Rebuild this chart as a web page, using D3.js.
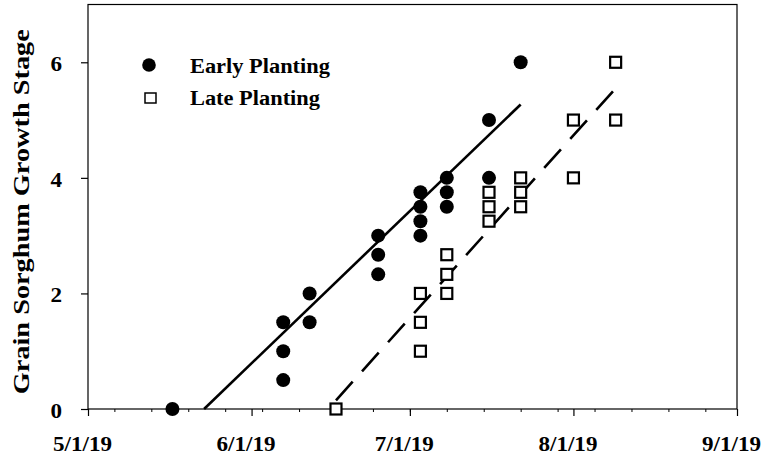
<!DOCTYPE html>
<html>
<head>
<meta charset="utf-8">
<script src="https://cdn.jsdelivr.net/npm/d3@7"></script>
<style>
  body { margin: 0; background: #fff; }
  svg text { font-family: "Liberation Serif", "Times New Roman", serif; font-weight: bold; fill: #000; }
</style>
</head>
<body>
<svg width="763" height="461"></svg>
<script>
// Early planting observations
var earlyDates = ["2019-05-17",
    "2019-06-07", "2019-06-07", "2019-06-07",
    "2019-06-12", "2019-06-12",
    "2019-06-25", "2019-06-25", "2019-06-25",
    "2019-07-03", "2019-07-03", "2019-07-03", "2019-07-03",
    "2019-07-08", "2019-07-08", "2019-07-08",
    "2019-07-16", "2019-07-16",
    "2019-07-22"];
var earlyStage = [0,
    1.5, 1.0, 0.5,
    2.0, 1.5,
    3.0, 2.67, 2.33,
    3.75, 3.5, 3.25, 3.0,
    4.0, 3.75, 3.5,
    5.0, 4.0,
    6.0];

// Late planting observations
var lateDates = ["2019-06-17",
    "2019-07-03", "2019-07-03", "2019-07-03",
    "2019-07-08", "2019-07-08", "2019-07-08",
    "2019-07-16", "2019-07-16", "2019-07-16",
    "2019-07-22", "2019-07-22", "2019-07-22",
    "2019-08-01", "2019-08-01",
    "2019-08-09", "2019-08-09"];
var lateStage = [0,
    2.0, 1.5, 1.0,
    2.67, 2.33, 2.0,
    3.75, 3.5, 3.25,
    4.0, 3.75, 3.5,
    5.0, 4.0,
    6.0, 5.0];

// fitted lines (end points)
var earlyFitDates = ["2019-05-23", "2019-07-22"];
var earlyFitStage = [0, 5.27];
var lateFitDates = ["2019-06-17", "2019-08-09"];
var lateFitStage = [0.15, 5.55];

var xTickDates = ["2019-05-01", "2019-06-01", "2019-07-01", "2019-08-01", "2019-09-01"];
var xTickLabels = ["5/1/19", "6/1/19", "7/1/19", "8/1/19", "9/1/19"];
var yTicks = [0, 2, 4, 6];
var seriesNames = ["Early Planting", "Late Planting"];

var parse = d3.timeParse("%Y-%m-%d");

var svg = d3.select("svg");
var plotLeft = 88, plotRight = 737, plotTop = 4.5, plotBottom = 409;

var x = d3.scaleTime()
    .domain([parse(xTickDates[0]), parse(xTickDates[xTickDates.length - 1])])
    .range([plotLeft, plotRight]);
var y = d3.scaleLinear().domain([0, 7]).range([plotBottom, plotTop]);

// squeeze/stretch text horizontally like the original export
function stretch(sel, sx) {
    sel.each(function() {
        var t = d3.select(this);
        var ax = +t.attr("x") || 0;
        t.attr("transform", "translate(" + ax + ",0) scale(" + sx + ",1) translate(" + (-ax) + ",0)");
    });
}

// minor weekly ticks
svg.append("g")
    .attr("transform", "translate(0," + plotBottom + ")")
    .call(d3.axisBottom(x).ticks(d3.timeMonday).tickSize(3).tickFormat(""))
    .call(function(g) { g.select(".domain").remove(); })
    .selectAll("line").attr("stroke-width", 1);

// major x axis
var xAxis = svg.append("g")
    .attr("transform", "translate(0," + plotBottom + ")")
    .call(d3.axisBottom(x)
        .tickValues(xTickDates.map(parse))
        .tickFormat(function(d, i) { return xTickLabels[i]; })
        .tickSizeInner(7).tickSizeOuter(0));
xAxis.select(".domain").remove();
xAxis.selectAll("line").attr("stroke-width", 1.2);
xAxis.selectAll("text")
    .attr("font-size", "21px")
    .attr("x", -6)
    .attr("y", 42)
    .attr("dy", 0)
    .call(stretch, 1.1);

// y axis
var yAxis = svg.append("g")
    .attr("transform", "translate(" + plotLeft + ",0)")
    .call(d3.axisLeft(y).tickValues(yTicks).tickFormat(d3.format("d"))
        .tickSizeInner(7).tickSizeOuter(0).tickPadding(19));
yAxis.select(".domain").remove();
yAxis.selectAll("line").attr("stroke-width", 1.2);
yAxis.selectAll("text")
    .attr("font-size", "21px")
    .attr("dy", "0.4em")
    .call(stretch, 1.1);

// frame
svg.append("rect")
    .attr("x", plotLeft).attr("y", plotTop)
    .attr("width", plotRight - plotLeft).attr("height", plotBottom - plotTop)
    .attr("fill", "none").attr("stroke", "#000").attr("stroke-width", 1.2);

// axis title
svg.append("text")
    .attr("transform", "translate(29," + ((plotTop + plotBottom) / 2 + 5) + ") rotate(-90)")
    .attr("text-anchor", "middle")
    .attr("font-size", "24px")
    .attr("textLength", 365)
    .attr("lengthAdjust", "spacingAndGlyphs")
    .text("Grain Sorghum Growth Stage");

// fitted lines
var line = d3.line()
    .x(function(d) { return x(d[0]); })
    .y(function(d) { return y(d[1]); });

svg.append("path")
    .datum(earlyFitDates.map(function(d, i) { return [parse(d), earlyFitStage[i]]; }))
    .attr("d", line)
    .attr("fill", "none").attr("stroke", "#000").attr("stroke-width", 2.6);

svg.append("path")
    .datum(lateFitDates.map(function(d, i) { return [parse(d), lateFitStage[i]]; }))
    .attr("d", line)
    .attr("fill", "none").attr("stroke", "#000").attr("stroke-width", 2.6)
    .attr("stroke-dasharray", "25,14");

// points
svg.append("g").selectAll("circle")
    .data(earlyDates.map(function(d, i) { return [parse(d), earlyStage[i]]; }))
    .enter().append("circle")
    .attr("cx", function(d) { return x(d[0]); })
    .attr("cy", function(d) { return y(d[1]); })
    .attr("r", 7)
    .attr("fill", "#000");

svg.append("g").selectAll("rect")
    .data(lateDates.map(function(d, i) { return [parse(d), lateStage[i]]; }))
    .enter().append("rect")
    .attr("x", function(d) { return x(d[0]) - 5.5; })
    .attr("y", function(d) { return y(d[1]) - 5.5; })
    .attr("width", 11).attr("height", 11)
    .attr("fill", "#fff").attr("stroke", "#000").attr("stroke-width", 2.2);

// legend
var legend = svg.append("g");
legend.append("circle").attr("cx", 149).attr("cy", 65).attr("r", 6.8).attr("fill", "#000");
legend.append("rect").attr("x", 145).attr("y", 93).attr("width", 11).attr("height", 10)
    .attr("fill", "#fff").attr("stroke", "#000").attr("stroke-width", 1.5);
legend.selectAll("text")
    .data(seriesNames)
    .enter().append("text")
    .attr("x", 190)
    .attr("y", function(d, i) { return 73 + i * 32; })
    .attr("font-size", "20px")
    .text(function(d) { return d; })
    .call(stretch, 1.12);
</script>
</body>
</html>
